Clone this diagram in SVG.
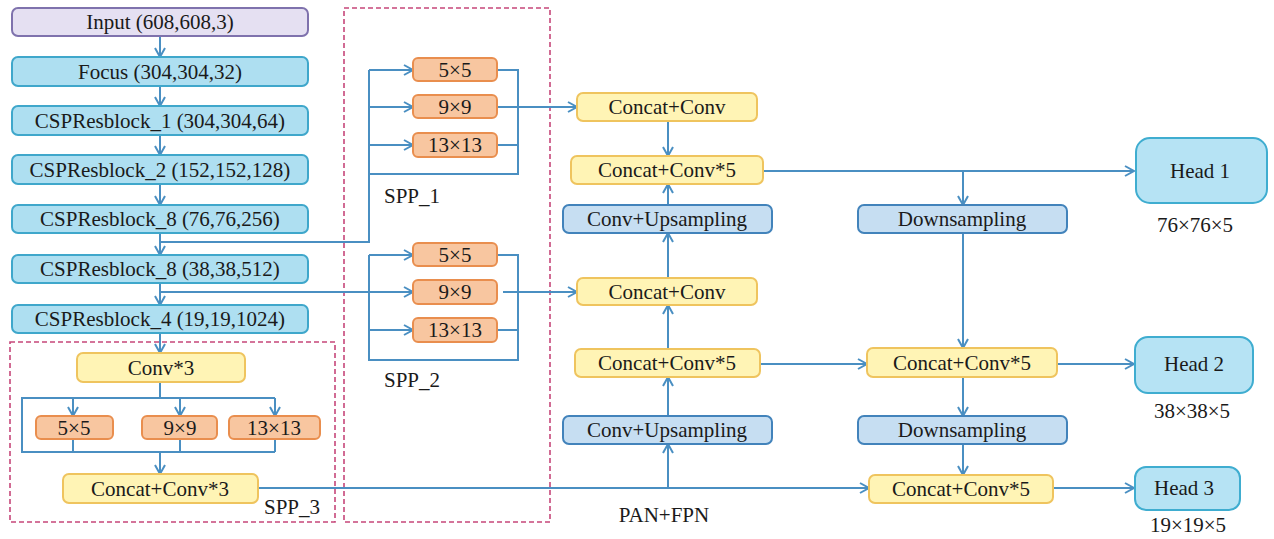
<svg xmlns="http://www.w3.org/2000/svg" width="1274" height="539" viewBox="0 0 1274 539">
<defs>
<marker id="ar" markerUnits="userSpaceOnUse" markerWidth="14" markerHeight="14" refX="10" refY="6" orient="auto">
<path d="M1,1 L10,6 L1,11" fill="none" stroke="#4a8fc2" stroke-width="2"/>
</marker>
</defs>
<rect width="1274" height="539" fill="#ffffff"/>

<g id="groups" fill="none" stroke="#c6477a" stroke-width="1.6" stroke-dasharray="5 3">
<rect x="10" y="342" width="325" height="180"/>
<rect x="344" y="8" width="206" height="514"/>
</g>

<g id="connectors" fill="none" stroke="#4a8fc2" stroke-width="2">
<g marker-end="url(#ar)">
<line x1="160" y1="36" x2="160" y2="57"/>
<line x1="160" y1="86" x2="160" y2="106"/>
<line x1="160" y1="135" x2="160" y2="155"/>
<line x1="160" y1="184" x2="160" y2="205"/>
<line x1="160" y1="233" x2="160" y2="255"/>
<line x1="160" y1="283" x2="160" y2="305"/>
<line x1="160" y1="333" x2="160" y2="353"/>
<line x1="369" y1="70" x2="413" y2="70"/>
<line x1="369" y1="107" x2="413" y2="107"/>
<line x1="369" y1="145" x2="413" y2="145"/>
<line x1="497" y1="107" x2="577" y2="107"/>
<line x1="160" y1="292" x2="413" y2="292"/>
<line x1="369" y1="255" x2="413" y2="255"/>
<line x1="369" y1="330" x2="413" y2="330"/>
<line x1="503" y1="292" x2="577" y2="292"/>
<line x1="73" y1="398" x2="73" y2="416"/>
<line x1="180" y1="398" x2="180" y2="416"/>
<line x1="275" y1="398" x2="275" y2="416"/>
<line x1="160" y1="452" x2="160" y2="474"/>
<line x1="258" y1="488" x2="869" y2="488"/>
<line x1="668" y1="121" x2="668" y2="156"/>
<line x1="668" y1="205" x2="668" y2="184"/>
<line x1="668" y1="278" x2="668" y2="233"/>
<line x1="668" y1="349" x2="668" y2="305"/>
<line x1="668" y1="416" x2="668" y2="377"/>
<line x1="668" y1="488" x2="668" y2="444"/>
<line x1="763" y1="171" x2="1134" y2="171"/>
<line x1="963" y1="171" x2="963" y2="205"/>
<line x1="963" y1="233" x2="963" y2="348"/>
<line x1="760" y1="364" x2="867" y2="364"/>
<line x1="1057" y1="364" x2="1134" y2="364"/>
<line x1="963" y1="377" x2="963" y2="416"/>
<line x1="963" y1="444" x2="963" y2="475"/>
<line x1="1053" y1="488" x2="1134" y2="488"/>
</g>
<polyline points="160,242 369,242 369,70"/>
<polyline points="369,174 518,174 518,70 497,70"/>
<line x1="497" y1="145" x2="518" y2="145"/>
<polyline points="369,255 369,360 518,360 518,255 497,255"/>
<line x1="497" y1="330" x2="518" y2="330"/>
<line x1="160" y1="382" x2="160" y2="398"/>
<polyline points="275,398 22,398 22,452 275,452"/>
<line x1="73" y1="439" x2="73" y2="452"/>
<line x1="180" y1="439" x2="180" y2="452"/>
<line x1="275" y1="439" x2="275" y2="452"/>
</g>

<g id="input"><rect x="12" y="8" width="296" height="28" rx="6" fill="#e5e0f2" stroke="#7f72ad" stroke-width="2"/><text x="160" y="29" font-family="Liberation Serif" font-size="21" text-anchor="middle" fill="#1a1a1a">Input (608,608,3)</text></g>
<g id="focus"><rect x="12" y="57" width="296" height="29" rx="6" fill="#aedff1" stroke="#3fa7cb" stroke-width="2"/><text x="160" y="79" font-family="Liberation Serif" font-size="21" text-anchor="middle" fill="#1a1a1a">Focus (304,304,32)</text></g>
<g id="csp1"><rect x="12" y="106" width="296" height="29" rx="6" fill="#aedff1" stroke="#3fa7cb" stroke-width="2"/><text x="160" y="128" font-family="Liberation Serif" font-size="21" text-anchor="middle" fill="#1a1a1a">CSPResblock_1 (304,304,64)</text></g>
<g id="csp2"><rect x="12" y="155" width="296" height="29" rx="6" fill="#aedff1" stroke="#3fa7cb" stroke-width="2"/><text x="160" y="177" font-family="Liberation Serif" font-size="21" text-anchor="middle" fill="#1a1a1a">CSPResblock_2 (152,152,128)</text></g>
<g id="csp8a"><rect x="12" y="205" width="296" height="28" rx="6" fill="#aedff1" stroke="#3fa7cb" stroke-width="2"/><text x="160" y="226" font-family="Liberation Serif" font-size="21" text-anchor="middle" fill="#1a1a1a">CSPResblock_8 (76,76,256)</text></g>
<g id="csp8b"><rect x="12" y="255" width="296" height="28" rx="6" fill="#aedff1" stroke="#3fa7cb" stroke-width="2"/><text x="160" y="276" font-family="Liberation Serif" font-size="21" text-anchor="middle" fill="#1a1a1a">CSPResblock_8 (38,38,512)</text></g>
<g id="csp4"><rect x="12" y="305" width="296" height="28" rx="6" fill="#aedff1" stroke="#3fa7cb" stroke-width="2"/><text x="160" y="326" font-family="Liberation Serif" font-size="21" text-anchor="middle" fill="#1a1a1a">CSPResblock_4 (19,19,1024)</text></g>

<g id="conv3"><rect x="77" y="353" width="168" height="29" rx="6" fill="#fff4b5" stroke="#efc45e" stroke-width="2"/><text x="161" y="375" font-family="Liberation Serif" font-size="21" text-anchor="middle" fill="#1a1a1a">Conv*3</text></g>
<g id="spp3_5"><rect x="36" y="416" width="77" height="23" rx="5" fill="#f8c6a0" stroke="#e98e4e" stroke-width="2"/><text x="74" y="435" font-family="Liberation Serif" font-size="21" text-anchor="middle" fill="#1a1a1a">5×5</text></g>
<g id="spp3_9"><rect x="142" y="416" width="75" height="23" rx="5" fill="#f8c6a0" stroke="#e98e4e" stroke-width="2"/><text x="180" y="435" font-family="Liberation Serif" font-size="21" text-anchor="middle" fill="#1a1a1a">9×9</text></g>
<g id="spp3_13"><rect x="229" y="416" width="91" height="23" rx="5" fill="#f8c6a0" stroke="#e98e4e" stroke-width="2"/><text x="274" y="435" font-family="Liberation Serif" font-size="21" text-anchor="middle" fill="#1a1a1a">13×13</text></g>
<g id="concat3"><rect x="63" y="474" width="195" height="29" rx="6" fill="#fff4b5" stroke="#efc45e" stroke-width="2"/><text x="160" y="496" font-family="Liberation Serif" font-size="21" text-anchor="middle" fill="#1a1a1a">Concat+Conv*3</text></g>
<g id="spp3_label"><text x="264" y="514" font-family="Liberation Serif" font-size="21" fill="#1a1a1a">SPP_3</text></g>

<g id="spp1_5"><rect x="413" y="58" width="84" height="23" rx="5" fill="#f8c6a0" stroke="#e98e4e" stroke-width="2"/><text x="455" y="77" font-family="Liberation Serif" font-size="21" text-anchor="middle" fill="#1a1a1a">5×5</text></g>
<g id="spp1_9"><rect x="413" y="95" width="84" height="23" rx="5" fill="#f8c6a0" stroke="#e98e4e" stroke-width="2"/><text x="455" y="114" font-family="Liberation Serif" font-size="21" text-anchor="middle" fill="#1a1a1a">9×9</text></g>
<g id="spp1_13"><rect x="413" y="133" width="84" height="24" rx="5" fill="#f8c6a0" stroke="#e98e4e" stroke-width="2"/><text x="455" y="152" font-family="Liberation Serif" font-size="21" text-anchor="middle" fill="#1a1a1a">13×13</text></g>
<g id="spp1_label"><text x="384" y="203" font-family="Liberation Serif" font-size="21" fill="#1a1a1a">SPP_1</text></g>

<g id="spp2_5"><rect x="413" y="243" width="84" height="23" rx="5" fill="#f8c6a0" stroke="#e98e4e" stroke-width="2"/><text x="455" y="262" font-family="Liberation Serif" font-size="21" text-anchor="middle" fill="#1a1a1a">5×5</text></g>
<g id="spp2_9"><rect x="413" y="280" width="84" height="24" rx="5" fill="#f8c6a0" stroke="#e98e4e" stroke-width="2"/><text x="455" y="299" font-family="Liberation Serif" font-size="21" text-anchor="middle" fill="#1a1a1a">9×9</text></g>
<g id="spp2_13"><rect x="413" y="318" width="84" height="24" rx="5" fill="#f8c6a0" stroke="#e98e4e" stroke-width="2"/><text x="455" y="337" font-family="Liberation Serif" font-size="21" text-anchor="middle" fill="#1a1a1a">13×13</text></g>
<g id="spp2_label"><text x="384" y="387" font-family="Liberation Serif" font-size="21" fill="#1a1a1a">SPP_2</text></g>

<g id="concat_top"><rect x="577" y="93" width="180" height="28" rx="6" fill="#fff4b5" stroke="#efc45e" stroke-width="2"/><text x="667" y="114" font-family="Liberation Serif" font-size="21" text-anchor="middle" fill="#1a1a1a">Concat+Conv</text></g>
<g id="concat5_top"><rect x="571" y="156" width="192" height="28" rx="6" fill="#fff4b5" stroke="#efc45e" stroke-width="2"/><text x="667" y="177" font-family="Liberation Serif" font-size="21" text-anchor="middle" fill="#1a1a1a">Concat+Conv*5</text></g>
<g id="up1"><rect x="563" y="205" width="209" height="28" rx="6" fill="#c6def2" stroke="#4283bb" stroke-width="2"/><text x="667" y="226" font-family="Liberation Serif" font-size="21" text-anchor="middle" fill="#1a1a1a">Conv+Upsampling</text></g>
<g id="concat_mid"><rect x="577" y="278" width="180" height="27" rx="6" fill="#fff4b5" stroke="#efc45e" stroke-width="2"/><text x="667" y="299" font-family="Liberation Serif" font-size="21" text-anchor="middle" fill="#1a1a1a">Concat+Conv</text></g>
<g id="concat5_mid"><rect x="575" y="349" width="185" height="28" rx="6" fill="#fff4b5" stroke="#efc45e" stroke-width="2"/><text x="667" y="370" font-family="Liberation Serif" font-size="21" text-anchor="middle" fill="#1a1a1a">Concat+Conv*5</text></g>
<g id="up2"><rect x="563" y="416" width="209" height="28" rx="6" fill="#c6def2" stroke="#4283bb" stroke-width="2"/><text x="667" y="437" font-family="Liberation Serif" font-size="21" text-anchor="middle" fill="#1a1a1a">Conv+Upsampling</text></g>
<g id="pan_label"><text x="664" y="522" font-family="Liberation Serif" font-size="21" text-anchor="middle" fill="#1a1a1a">PAN+FPN</text></g>

<g id="down1"><rect x="858" y="205" width="209" height="28" rx="6" fill="#c6def2" stroke="#4283bb" stroke-width="2"/><text x="962" y="226" font-family="Liberation Serif" font-size="21" text-anchor="middle" fill="#1a1a1a">Downsampling</text></g>
<g id="concat5_r1"><rect x="867" y="348" width="190" height="29" rx="6" fill="#fff4b5" stroke="#efc45e" stroke-width="2"/><text x="962" y="370" font-family="Liberation Serif" font-size="21" text-anchor="middle" fill="#1a1a1a">Concat+Conv*5</text></g>
<g id="down2"><rect x="858" y="416" width="209" height="28" rx="6" fill="#c6def2" stroke="#4283bb" stroke-width="2"/><text x="962" y="437" font-family="Liberation Serif" font-size="21" text-anchor="middle" fill="#1a1a1a">Downsampling</text></g>
<g id="concat5_r2"><rect x="869" y="475" width="184" height="28" rx="6" fill="#fff4b5" stroke="#efc45e" stroke-width="2"/><text x="961" y="496" font-family="Liberation Serif" font-size="21" text-anchor="middle" fill="#1a1a1a">Concat+Conv*5</text></g>

<g id="head1"><rect x="1136" y="138" width="131" height="65" rx="14" fill="#b6e3f4" stroke="#3fadd0" stroke-width="2"/><text x="1200" y="178" font-family="Liberation Serif" font-size="21" text-anchor="middle" fill="#1a1a1a">Head 1</text><text x="1195" y="232" font-family="Liberation Serif" font-size="21" text-anchor="middle" fill="#1a1a1a">76×76×5</text></g>
<g id="head2"><rect x="1135" y="337" width="118" height="56" rx="13" fill="#b6e3f4" stroke="#3fadd0" stroke-width="2"/><text x="1194" y="371" font-family="Liberation Serif" font-size="21" text-anchor="middle" fill="#1a1a1a">Head 2</text><text x="1192" y="418" font-family="Liberation Serif" font-size="21" text-anchor="middle" fill="#1a1a1a">38×38×5</text></g>
<g id="head3"><rect x="1135" y="467" width="105" height="43" rx="11" fill="#b6e3f4" stroke="#3fadd0" stroke-width="2"/><text x="1184" y="495" font-family="Liberation Serif" font-size="21" text-anchor="middle" fill="#1a1a1a">Head 3</text><text x="1188" y="532" font-family="Liberation Serif" font-size="21" text-anchor="middle" fill="#1a1a1a">19×19×5</text></g>
</svg>
